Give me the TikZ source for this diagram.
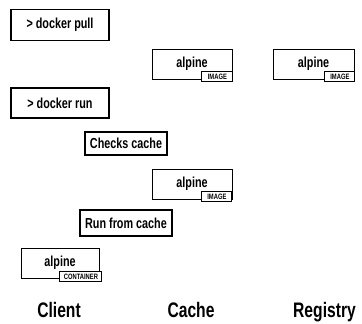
\documentclass[tikz,border=0pt]{standalone}
\usepackage{fontspec}
\setmainfont{Liberation Sans}[FakeStretch=0.745]
\usepackage{tikz}
\usetikzlibrary{positioning}

\tikzset{
  cmd/.style={draw, line width=1.3pt, font=\fontsize{14.5}{16}\selectfont\bfseries, inner sep=2pt},
  img/.style={draw, line width=0.9pt, minimum width=80pt, minimum height=30pt, inner sep=0pt,
    font=\fontsize{14.5}{16}\selectfont\bfseries},
  tag/.style={draw, fill=white, line width=1.1pt, minimum height=10pt, inner sep=1.5pt,
    font=\fontsize{7.8}{8}\selectfont\bfseries, anchor=south east},
  col/.style={font=\fontsize{21}{23}\selectfont\bfseries, anchor=base}
}

\begin{document}
\begin{tikzpicture}[x=1pt, y=-1pt]
  \useasboundingbox (0,0) rectangle (362,324);
  % client commands
  \node[cmd, minimum width=98pt, minimum height=31pt] (pull) at (60,25) {> docker pull};
  \node[cmd, minimum width=98pt, minimum height=30pt] (run) at (60,103) {> docker run};
  \node[cmd, minimum width=82pt, minimum height=23pt] (check) at (126,143.5) {Checks cache};
  \node[cmd, minimum width=92pt, minimum height=26pt] (fromcache) at (126,223) {Run from cache};
  % images
  \node[img] (pullimg) at (192,64) {alpine};
  \node[tag, minimum width=31pt] (pulltag) at ([xshift=1pt,yshift=-3pt]pullimg.south east) {IMAGE};
  \node[img, minimum width=81pt] (regimg) at (313.5,64) {alpine};
  \node[tag, minimum width=30pt] (regtag) at ([xshift=1pt,yshift=-3pt]regimg.south east) {IMAGE};
  \node[img] (runimg) at (192,184) {alpine};
  \node[tag, minimum width=30pt] (runtag) at ([xshift=0pt,yshift=-3pt]runimg.south east) {IMAGE};
  % container
  \node[img, minimum width=78pt] (cont) at (60,263) {alpine};
  \node[tag, minimum width=42pt] (conttag) at ([xshift=3pt,yshift=-4pt]cont.south east) {CONTAINER};
  % columns
  \node[col] (client) at (59,317.5) {Client};
  \node[col] (cache) at (191,317.5) {Cache};
  \node[col] (registry) at (324.5,317.5) {Registry};
\end{tikzpicture}
\end{document}
